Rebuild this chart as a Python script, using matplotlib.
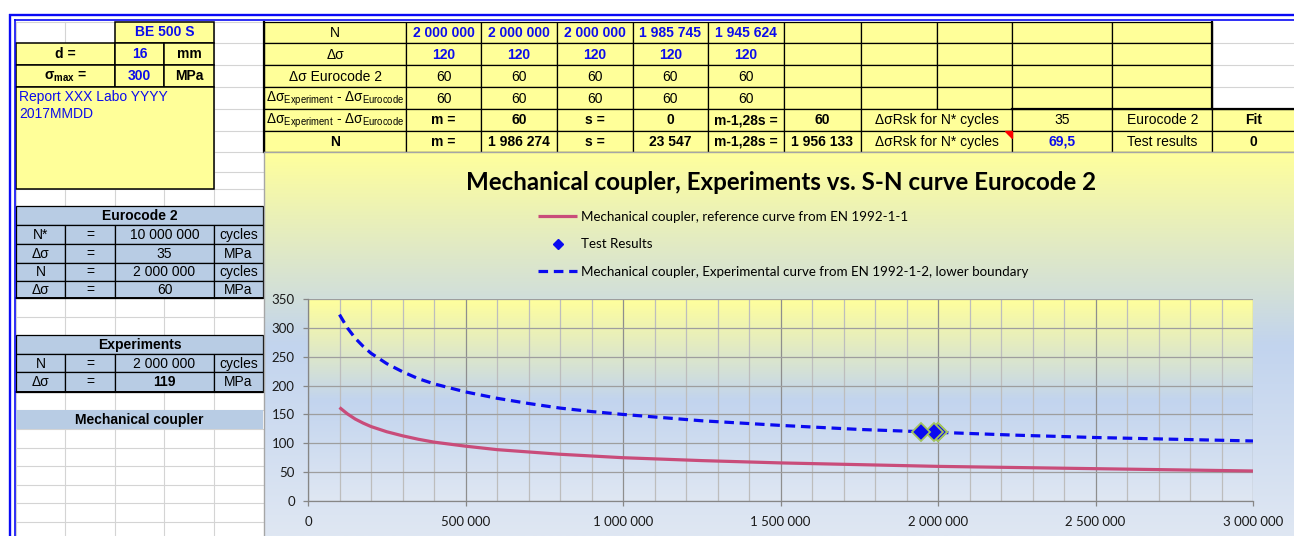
import numpy as np
import matplotlib
matplotlib.use("Agg")
import matplotlib.pyplot as plt
from matplotlib.patches import Rectangle, Polygon
from matplotlib.lines import Line2D
from matplotlib.colors import LinearSegmentedColormap
from matplotlib.ticker import MultipleLocator, FuncFormatter

# ---------------- data ----------------
cycles_curve = [100000, 125000, 150000, 175000, 200000, 250000, 300000, 350000,
                400000, 500000, 600000, 700000, 800000, 900000, 1000000,
                1250000, 1500000, 1750000, 2000000, 2250000, 2500000, 2750000,
                3000000]
ref_curve_ec2 = [162, 151, 142, 135, 129, 120, 113, 107, 102, 95, 89, 85, 81,
                 78, 75, 70, 66, 63, 60, 58, 56, 54, 52]
exp_curve_lower = [323, 300, 282, 268, 256, 238, 224, 212, 203, 189, 178, 169,
                   161, 155, 150, 139, 131, 124, 119, 114, 110, 107, 104]
test_N = [2000000, 2000000, 2000000, 1985745, 1945624]
test_dsigma = [120, 120, 120, 120, 120]
ec2_dsigma = [60, 60, 60, 60, 60]
diff_dsigma = [60, 60, 60, 60, 60]

diff_stats = {"m": 60, "s": 0, "char": 60}
N_stats = {"m": 1986274, "s": 23547, "char": 1956133}
rsk_ec2 = "35"
rsk_test = "69,5"
fit_ec2 = "Fit"
fit_test = "0"

bar_type = "BE 500 S"
diameter = "16"
sigma_max = "300"
report_lines = ["Report XXX Labo YYYY", "2017MMDD"]

ec2_table = [("N*", "10 000 000", "cycles"), ("Δσ", "35", "MPa"),
             ("N", "2 000 000", "cycles"), ("Δσ", "60", "MPa")]
exp_table = [("N", "2 000 000", "cycles"), ("Δσ", "119", "MPa")]

title = "Mechanical coupler, Experiments vs. S-N curve Eurocode 2"
legend_labels = ["Mechanical coupler, reference curve from EN 1992-1-1",
                 "Test Results",
                 "Mechanical coupler, Experimental curve from EN 1992-1-2, lower boundary"]
x_ticks = [0, 500000, 1000000, 1500000, 2000000, 2500000, 3000000]
y_ticks = [0, 50, 100, 150, 200, 250, 300, 350]


def fmt(v):
    return f"{v:,.0f}".replace(",", " ")


# ---------------- style ----------------
plt.rcParams["mathtext.fontset"] = "custom"
plt.rcParams["mathtext.rm"] = "Liberation Sans"
plt.rcParams["mathtext.bf"] = "Liberation Sans:bold"
plt.rcParams["mathtext.it"] = "Liberation Sans:italic"
plt.rcParams["mathtext.sf"] = "Liberation Sans"

TF = "Liberation Sans"
CF = "Lato"
TS = 10.0
YEL = "#FFFF99"
BLU = "#B8CCE4"
TXTBLUE = "#0C0CEB"
GRIDC = "#D4D4D4"

W, H = 1294, 536
fig = plt.figure(figsize=(W / 100, H / 100), dpi=100)
bg = fig.add_axes([0, 0, 1, 1])
bg.set_xlim(0, W)
bg.set_ylim(H, 0)
bg.axis("off")


def cell(x0, y0, x1, y1, fc=None, ec="black", lw=0.9, z=2):
    bg.add_patch(Rectangle((x0, y0), x1 - x0, y1 - y0,
                           facecolor=fc if fc else "none",
                           edgecolor=ec if ec else "none",
                           linewidth=lw, zorder=z))


def put(x, y, s, ha="center", color="black", bold=False, size=TS, family=TF,
        va="center", z=5):
    return bg.text(x, y, s, ha=ha, va=va, color=color, fontsize=size,
                   fontweight="bold" if bold else "normal", family=family,
                   zorder=z)


# ---------------- spreadsheet grid (white cells) ----------------
LCOLS = [16, 65, 115, 164, 214, 263]
LROWS = [21.7, 43.3, 65, 87.3, 109, 130.7, 152, 171.7, 189, 206, 225, 244,
         262.7, 281, 298.3, 316.7, 335, 354, 372.3, 391.7, 410, 429.3, 447.8,
         466.3, 484.8, 503.3, 521.8]
for x in LCOLS[:-1]:
    bg.plot([x, x], [21.7, H], color=GRIDC, lw=0.8, zorder=0.5)
for y in LROWS:
    bg.plot([16, 263], [y, y], color=GRIDC, lw=0.8, zorder=0.5)
for y in [43.3, 65, 87.3]:
    bg.plot([1212.3, W], [y, y], color=GRIDC, lw=0.8, zorder=0.5)

# outer double blue border
BC = "#0A0AF5"
bg.plot([9, W], [15, 15], color=BC, lw=1.7, zorder=6, solid_capstyle="butt")
bg.plot([14, W], [19.5, 19.5], color=BC, lw=1.2, zorder=6, solid_capstyle="butt")
bg.plot([10.2, 10.2], [14.2, H], color=BC, lw=1.7, zorder=6, solid_capstyle="butt")
bg.plot([14.5, 14.5], [19, H], color=BC, lw=1.2, zorder=6, solid_capstyle="butt")

# ---------------- left block ----------------
cell(115, 21.7, 214, 43.3, YEL, lw=1.1)
put(164.5, 32.5, bar_type, color=TXTBLUE, bold=True)
cell(16, 43.3, 115, 65, YEL, lw=1.1)
put(65.5, 54.5, "d =", bold=True)
cell(115, 43.3, 164, 65, YEL, lw=1.1)
put(139.5, 54.5, diameter, color=TXTBLUE, bold=True)
cell(164, 43.3, 214, 65, YEL, lw=1.1)
put(189, 54.5, "mm", bold=True)
cell(16, 65, 115, 87.3, YEL, lw=1.1)
put(65.5, 76.5, r"$\mathbf{σ}_{\mathbf{max}}$ =", bold=True)
cell(115, 65, 164, 87.3, YEL, lw=1.1)
put(139.5, 76.5, sigma_max, color=TXTBLUE, bold=True)
cell(164, 65, 214, 87.3, YEL, lw=1.1)
put(189, 76.5, "MPa", bold=True)
cell(16, 87.3, 214, 189, YEL, lw=1.1)
put(19, 97, report_lines[0], ha="left", color=TXTBLUE)
put(19, 114, report_lines[1], ha="left", color=TXTBLUE)

# Eurocode 2 table
cell(16, 206, 263, 225, BLU, lw=0.9)
put(139.5, 215.8, "Eurocode 2", bold=True)
ec_rows = [225, 244, 262.7, 281, 298.3]
for i, (lab, val, unit) in enumerate(ec2_table):
    y0, y1 = ec_rows[i], ec_rows[i + 1]
    yc = (y0 + y1) / 2 + 0.5
    cell(16, y0, 65, y1, BLU)
    cell(65, y0, 115, y1, BLU)
    cell(115, y0, 214, y1, BLU)
    cell(214, y0, 263, y1, BLU)
    put(40.5, yc, lab)
    put(90, yc, "=")
    put(164.5, yc, val)
    put(238.5, yc, unit)
bg.plot([16, 263], [298.3, 298.3], color="black", lw=1.4, zorder=3)

# Experiments table
cell(16, 335, 263, 354, BLU, lw=0.9)
put(139.5, 344.8, "Experiments", bold=True)
ex_rows = [354, 372.3, 391.7]
for i, (lab, val, unit) in enumerate(exp_table):
    y0, y1 = ex_rows[i], ex_rows[i + 1]
    yc = (y0 + y1) / 2 + 0.5
    cell(16, y0, 65, y1, BLU)
    cell(65, y0, 115, y1, BLU)
    cell(115, y0, 214, y1, BLU)
    cell(214, y0, 263, y1, BLU)
    put(40.5, yc, lab)
    put(90, yc, "=")
    put(164.5, yc, val, bold=(i == 1))
    put(238.5, yc, unit)
bg.plot([16, 263], [391.7, 391.7], color="black", lw=1.4, zorder=3)

cell(16, 410, 263, 429.3, BLU, ec=None)
put(139.5, 420, "Mechanical coupler", bold=True)

# ---------------- top table ----------------
TC = [264, 406.4, 481, 556.8, 632.6, 708.3, 784, 860.7, 936.7, 1012.3,
      1112.3, 1212.3, 1300]
TR = [21.7, 43.3, 65, 87.3, 109, 130.7, 151.7]
sub_label = (r"$\mathrm{Δσ}_{\mathrm{Experiment}}$ - "
             r"$\mathrm{Δσ}_{\mathrm{Eurocode}}$")
row_labels = ["N", "Δσ", "Δσ Eurocode 2", sub_label, sub_label, "N"]

for r in range(4):
    y0, y1 = TR[r], TR[r + 1]
    for c in range(11):
        cell(TC[c], y0, TC[c + 1], y1, YEL)
for r in range(4, 6):
    y0, y1 = TR[r], TR[r + 1]
    for c in [0, 1, 2, 3, 4, 5, 6]:
        cell(TC[c], y0, TC[c + 1], y1, YEL)
    cell(TC[7], y0, TC[9], y1, YEL)
    cell(TC[9], y0, TC[10], y1, YEL)
    cell(TC[10], y0, TC[11], y1, YEL)
    cell(TC[11], y0, TC[12], y1, YEL)


def yc(r):
    return (TR[r] + TR[r + 1]) / 2 + 0.5


def xc(c):
    return (TC[c] + TC[c + 1]) / 2


for r, lab in enumerate(row_labels):
    if r in (3, 4):
        put(266, yc(r), lab, ha="left", size=TS * 0.98)
    else:
        put(xc(0), yc(r), lab, bold=(r == 5))

for k in range(5):
    put(xc(k + 1), yc(0), fmt(test_N[k]), color=TXTBLUE, bold=True)
    put(xc(k + 1), yc(1), fmt(test_dsigma[k]), color=TXTBLUE, bold=True)
    put(xc(k + 1), yc(2), fmt(ec2_dsigma[k]))
    put(xc(k + 1), yc(3), fmt(diff_dsigma[k]))

row5 = ["m =", fmt(diff_stats["m"]), "s =", fmt(diff_stats["s"]), "m-1,28s =",
        fmt(diff_stats["char"])]
row6 = ["m =", fmt(N_stats["m"]), "s =", fmt(N_stats["s"]), "m-1,28s =",
        fmt(N_stats["char"])]
for k in range(6):
    put(xc(k + 1), yc(4), row5[k], bold=True)
    put(xc(k + 1), yc(5), row6[k], bold=True)
for r in (4, 5):
    put((TC[7] + TC[9]) / 2, yc(r), "ΔσRsk for N* cycles")
put(xc(9), yc(4), rsk_ec2)
put(xc(9), yc(5), rsk_test, color=TXTBLUE, bold=True)
put(xc(10), yc(4), "Eurocode 2")
put(xc(10), yc(5), "Test results")
put((TC[11] + W) / 2, yc(4), fit_ec2, bold=True)
put((TC[11] + W) / 2, yc(5), fit_test, bold=True)
bg.add_patch(Polygon([[1004.5, 131.2], [1011.5, 131.2], [1011.5, 138]],
                     closed=True, color="red", zorder=6))
bg.plot([264, 264], [21.7, 151.7], color="black", lw=1.6, zorder=3)
bg.plot([1212.3, 1212.3], [21.7, 109], color="black", lw=1.6, zorder=3)
bg.plot([1012.3, W], [109, 109], color="black", lw=1.6, zorder=3)

# ---------------- chart area ----------------
cmap = LinearSegmentedColormap.from_list(
    "xl", [(0.0, "#FFFF9C"), (0.5, "#C2D4EE"), (1.0, "#DFE7F3")])
grad = np.linspace(0, 1, 256).reshape(-1, 1)
CA = (263.5, 152)
bg.imshow(grad, cmap=cmap, extent=(CA[0], W, H, CA[1]), aspect="auto",
          origin="upper", zorder=7, interpolation="bilinear")
bg.plot([CA[0], CA[0]], [CA[1], H], color="#A6A6A6", lw=1.0, zorder=7.5)
bg.plot([CA[0], W], [CA[1], CA[1]], color="#A6A6A6", lw=1.0, zorder=7.5)

PL, PR, PT, PB = 308, 1253, 299, 501
bg.imshow(grad, cmap=cmap, extent=(PL, PR, PB, PT), aspect="auto",
          origin="upper", zorder=8, interpolation="bilinear")
bg.set_xlim(0, W)
bg.set_ylim(H, 0)

t_title = bg.text((PL + PR) / 2 + 1, 182, title, ha="center", va="center",
                  fontsize=17, fontweight="bold", family=CF, color="black",
                  zorder=9)

ax = fig.add_axes([PL / W, (H - PB) / H, (PR - PL) / W, (PB - PT) / H])
ax.patch.set_alpha(0)
l_ref, = ax.plot(cycles_curve, ref_curve_ec2, color="#C94C7A", lw=2.3,
                 solid_capstyle="butt", solid_joinstyle="round", zorder=3)
l_exp, = ax.plot(cycles_curve, exp_curve_lower, color="#0A0AF0", lw=2.3,
                 ls=(0, (3.0, 1.8)), zorder=3)
ax.plot(test_N, test_dsigma, ls="none", marker="D", ms=9, mfc="#0A0AF0",
        mec="#A4C45E", mew=1.3, zorder=4)
ax.set_xlim(0, 3000000)
ax.set_ylim(0, 350)
ax.set_xticks(x_ticks)
ax.set_yticks(y_ticks)
ax.xaxis.set_minor_locator(MultipleLocator(100000))
ax.xaxis.set_major_formatter(FuncFormatter(lambda v, p: fmt(v)))
ax.grid(which="major", axis="x", color="#8E8E8E", lw=0.9)
ax.grid(which="minor", axis="x", color="#BDBDBD", lw=0.9)
ax.grid(which="major", axis="y", color="#9E9E9E", lw=0.9)
ax.set_axisbelow(True)
for s in ("top", "right"):
    ax.spines[s].set_visible(False)
for s in ("left", "bottom"):
    ax.spines[s].set_color("#868686")
    ax.spines[s].set_linewidth(0.9)
ax.tick_params(which="minor", length=0)
ax.tick_params(which="major", length=3.5, color="#868686", width=0.9,
               labelcolor="#1A1A1A", labelsize=9.5)
ax.tick_params(axis="x", pad=7)
ax.tick_params(axis="y", pad=6)
for lab in ax.get_xticklabels() + ax.get_yticklabels():
    lab.set_family(CF)

proxy_dia = Line2D([], [], ls="none", marker="D", ms=5, mfc="#0A0AF0",
                   mec="#0A0AF0")
leg = fig.legend([l_ref, proxy_dia, l_exp], legend_labels, loc="upper left",
                 bbox_to_anchor=(538 / W, 1 - 211 / H), frameon=False,
                 prop={"family": CF, "size": 9.6}, handlelength=2.95,
                 handletextpad=0.3, labelspacing=1.15, borderpad=0,
                 borderaxespad=0)
leg.set_zorder(10)

fig.canvas.draw()
r = fig.canvas.get_renderer()
wt = t_title.get_window_extent(r).width
t_title.set_fontsize(t_title.get_fontsize() * 631 / wt)

fig.savefig("out.png", dpi=100)
